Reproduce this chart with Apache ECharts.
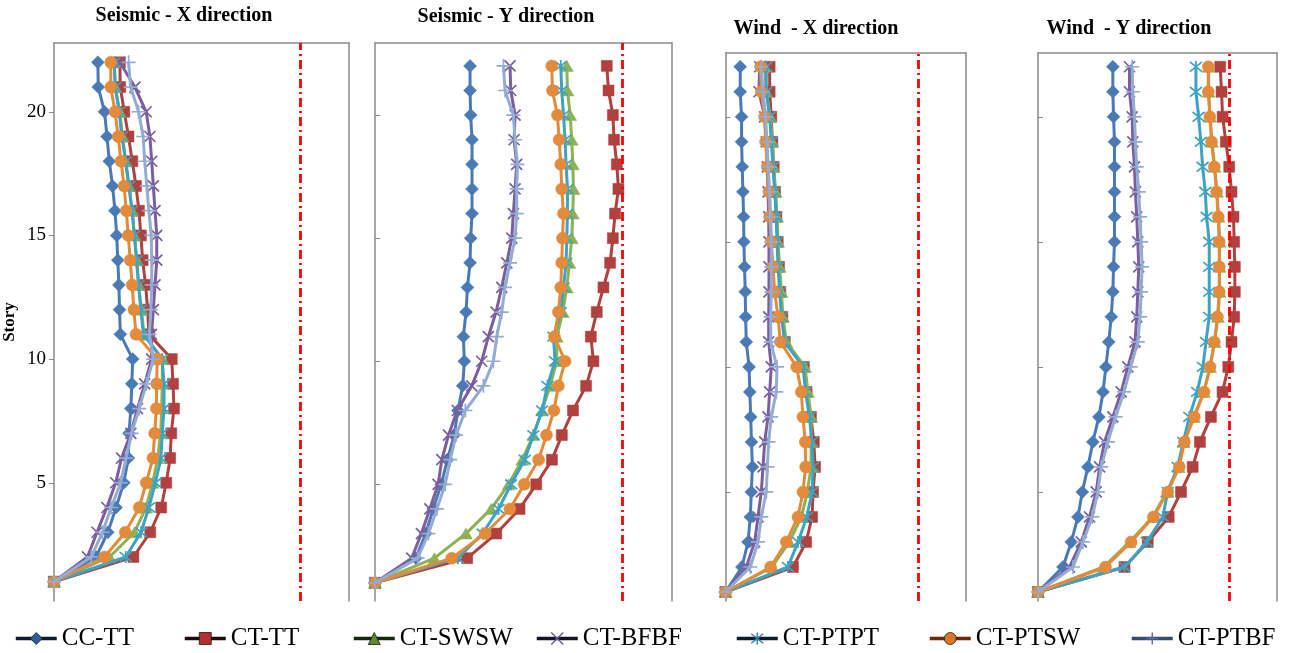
<!DOCTYPE html>
<html>
<head>
<meta charset="utf-8">
<script src="https://cdn.jsdelivr.net/npm/echarts@6/dist/echarts.min.js"></script>
<style>html,body{margin:0;padding:0;background:#fff}#c{width:1307px;height:653px}</style>
</head>
<body>
<div id="c"></div>
<script>
// ---- data (story drift, per mille) ----
const stories = [1,2,3,4,5,6,7,8,9,10,11,12,13,14,15,16,17,18,19,20,21,22];
const seriesNames = ['CC-TT','CT-TT','CT-SWSW','CT-BFBF','CT-PTPT','CT-PTSW','CT-PTBF'];
const panelTitles = ['Seismic - X direction','Seismic - Y direction','Wind  - X direction','Wind  - Y direction'];
const storyTicks = [5,10,15,20];
const limitSeismic = 20;
const limitWind = 2.0;

// Seismic - X
const sx_CCTT = [0,3.42,4.38,5.05,5.68,6.05,6.10,6.25,6.33,6.40,5.40,5.33,5.28,5.19,5.10,4.96,4.76,4.50,4.31,4.11,3.60,3.57];
const sx_CTTT = [0,6.46,7.83,8.72,9.13,9.45,9.54,9.76,9.68,9.58,7.72,7.62,7.45,7.21,7.07,6.91,6.67,6.37,6.06,5.72,5.39,5.36];
const sx_SWSW = [0,4.52,6.55,7.49,8.03,8.44,8.68,8.76,8.81,8.82,7.32,7.12,6.88,6.74,6.54,6.36,6.09,5.82,5.58,5.35,4.98,4.89];
const sx_BFBF = [0,2.72,3.50,4.30,5.02,5.50,6.25,6.79,7.38,7.95,7.93,8.08,8.22,8.36,8.36,8.22,8.08,7.95,7.80,7.50,6.58,5.36];
const sx_PTPT = [0,5.83,7.08,7.72,8.25,8.70,8.81,8.95,8.95,8.80,7.27,7.06,6.88,6.71,6.54,6.35,6.10,5.84,5.52,5.30,4.98,4.91];
const sx_PTSW = [0,4.11,5.80,6.94,7.50,8.05,8.19,8.33,8.35,8.40,6.67,6.50,6.36,6.20,6.04,5.88,5.70,5.45,5.22,4.96,4.62,4.62];
const sx_PTBF = [0,3.03,3.95,4.65,5.42,5.86,6.31,6.93,7.52,8.08,7.76,7.88,7.95,7.95,7.91,7.72,7.55,7.38,7.25,6.88,6.23,6.07];

// Seismic - Y
const sy_CCTT = [0,3.30,4.10,4.70,5.35,5.85,6.40,6.70,7.09,7.22,7.14,7.36,7.47,7.68,7.73,7.84,7.84,7.84,7.84,7.73,7.68,7.68];
const sy_CTTT = [0,7.45,9.80,11.68,13.03,14.30,15.10,16.00,17.06,17.65,17.44,17.92,18.46,19.00,19.22,19.40,19.67,19.54,19.32,19.22,18.87,18.73];
const sy_SWSW = [0,4.80,7.35,9.38,10.80,11.90,12.80,13.50,14.15,14.69,14.69,15.17,15.50,15.71,15.90,15.98,16.04,15.98,15.90,15.77,15.55,15.50];
const sy_BFBF = [0,2.97,3.75,4.43,5.10,5.40,5.94,6.65,7.82,8.62,9.16,9.78,10.24,10.65,11.05,11.18,11.32,11.45,11.24,11.32,10.97,10.91];
const sy_PTPT = [0,6.70,8.70,9.98,11.00,12.10,12.80,13.50,13.93,14.55,14.42,15.01,15.23,15.44,15.50,15.55,15.55,15.44,15.36,15.23,15.09,15.01];
const sy_PTSW = [0,6.20,8.90,10.90,12.06,13.22,13.86,14.46,14.82,15.36,14.50,14.82,15.01,15.09,15.15,15.23,15.09,15.01,14.88,14.74,14.34,14.28];
const sy_PTBF = [0,3.45,4.32,5.00,5.67,6.08,6.55,7.30,8.76,9.57,9.84,10.24,10.51,10.91,11.32,11.45,11.45,11.51,11.32,11.18,10.51,10.38];

// Wind - X
const wx_CCTT = [0,0.171,0.234,0.258,0.268,0.280,0.270,0.262,0.253,0.245,0.216,0.209,0.205,0.198,0.191,0.188,0.181,0.174,0.167,0.167,0.153,0.153];
const wx_CTTT = [0,0.702,0.838,0.900,0.910,0.931,0.918,0.888,0.843,0.815,0.616,0.591,0.570,0.556,0.543,0.529,0.515,0.501,0.487,0.476,0.459,0.459];
const wx_SWSW = [0,0.485,0.662,0.790,0.850,0.890,0.890,0.890,0.858,0.826,0.633,0.598,0.581,0.563,0.546,0.536,0.522,0.501,0.487,0.466,0.424,0.407];
const wx_BFBF = [0,0.216,0.303,0.338,0.372,0.390,0.407,0.442,0.459,0.476,0.449,0.449,0.452,0.452,0.452,0.449,0.442,0.435,0.424,0.407,0.348,0.355];
const wx_PTPT = [0,0.648,0.754,0.845,0.900,0.910,0.898,0.872,0.832,0.806,0.616,0.581,0.563,0.546,0.536,0.529,0.511,0.494,0.476,0.459,0.424,0.424];
const wx_PTSW = [0,0.469,0.632,0.753,0.805,0.833,0.829,0.805,0.788,0.740,0.570,0.546,0.511,0.494,0.476,0.459,0.452,0.435,0.417,0.407,0.372,0.365];
const wx_PTBF = [0,0.258,0.338,0.372,0.424,0.435,0.448,0.476,0.528,0.535,0.470,0.470,0.476,0.476,0.476,0.470,0.459,0.445,0.431,0.417,0.390,0.372];

// Wind - Y
const wy_CCTT = [0,0.261,0.348,0.418,0.463,0.522,0.574,0.637,0.680,0.710,0.740,0.766,0.783,0.790,0.800,0.800,0.800,0.800,0.800,0.790,0.783,0.783];
const wy_CTTT = [0,0.905,1.148,1.367,1.496,1.618,1.694,1.809,1.930,1.990,2.024,2.052,2.059,2.059,2.052,2.045,2.024,2.000,1.965,1.931,1.920,1.906];
const wy_SWSW = [0,0.685,0.957,1.200,1.346,1.472,1.525,1.630,1.735,1.800,1.848,1.882,1.900,1.900,1.900,1.889,1.872,1.848,1.820,1.800,1.785,1.785];
const wy_BFBF = [0,0.331,0.452,0.539,0.609,0.644,0.696,0.783,0.870,0.940,1.015,1.033,1.044,1.054,1.044,1.033,1.019,1.009,0.992,0.985,0.957,0.957];
const wy_PTPT = [0,0.905,1.138,1.305,1.357,1.461,1.520,1.583,1.665,1.725,1.757,1.791,1.791,1.791,1.791,1.764,1.750,1.722,1.704,1.680,1.652,1.652];
const wy_PTSW = [0,0.706,0.974,1.207,1.357,1.478,1.531,1.635,1.737,1.800,1.844,1.878,1.896,1.896,1.896,1.885,1.868,1.844,1.816,1.798,1.781,1.781];
const wy_PTBF = [0,0.366,0.470,0.567,0.626,0.661,0.731,0.811,0.900,0.970,1.044,1.068,1.079,1.089,1.079,1.068,1.054,1.033,1.019,1.009,0.992,0.985];

const panelData = [
  [sx_CCTT, sx_CTTT, sx_SWSW, sx_BFBF, sx_PTPT, sx_PTSW, sx_PTBF],
  [sy_CCTT, sy_CTTT, sy_SWSW, sy_BFBF, sy_PTPT, sy_PTSW, sy_PTBF],
  [wx_CCTT, wx_CTTT, wx_SWSW, wx_BFBF, wx_PTPT, wx_PTSW, wx_PTBF],
  [wy_CCTT, wy_CTTT, wy_SWSW, wy_BFBF, wy_PTPT, wy_PTSW, wy_PTBF]
];
const panelLimits = [limitSeismic, limitSeismic, limitWind, limitWind];

// ---- styling / layout ----
const layout = [
  {left: 52.5, right: 349, top: 43, bottom: 601, xMax: 24,  yMin: 0.22, yMax: 22.78, titleX: 184, titleY: 6,  tickInside: false},
  {left: 375,  right: 672, top: 43, bottom: 601, xMax: 24,  yMin: 0.26, yMax: 22.93, titleX: 506, titleY: 7,  tickInside: true},
  {left: 725.5,right: 966, top: 53, bottom: 601, xMax: 2.5, yMin: 0.64, yMax: 22.55, titleX: 816, titleY: 19, tickInside: true},
  {left: 1038, right: 1277,top: 53, bottom: 601, xMax: 2.5, yMin: 0.64, yMax: 22.55, titleX: 1129,titleY: 19, tickInside: true}
];
const colors = ['#4A7AB5','#B0413E','#8DB255','#7A5E9E','#3DA3C2','#E38B3A','#93ACD4'];
const symbols = ['diamond','rect','triangle',
  'path://M0,0L10,10M10,0L0,10',
  'path://M0,1L10,9M10,1L0,9M5,0L5,10',
  'circle',
  'path://M5,0L5,10M0,5L10,5'];
const symbolSizes = [[13,13],11,[13,11],11,[12,12],12,[14,14]];
const strokeOnly = [false,false,false,true,true,false,true];
const legendLine = ['#0E1A30','#1E0C0C','#14260C','#141428','#0C1C28','#6A2A08','#3A4A6A'];
const legendMarker = ['#2E5C9A','#B0302C','#5E8A2A','#6A5A9A','#2E7FA5','#D9782A','#5A6FA0'];
const legendLeft = [14,183,352,535,735,928,1130];
const frameColor = '#8A8A8A';
const serif = "'Liberation Serif','Times New Roman',serif";

const grid = [], xAxis = [], yAxis = [], series = [], title = [], legend = [];
layout.forEach((L, p) => {
  grid.push({left: L.left, top: L.top, width: L.right - L.left, height: L.bottom - L.top, containLabel: false});
  xAxis.push({type: 'value', gridIndex: p, min: 0, max: L.xMax, position: 'top',
    axisLine: {show: true, onZero: false, lineStyle: {color: frameColor, width: 1.5}},
    axisTick: {show: false}, axisLabel: {show: false}, splitLine: {show: false}});
  yAxis.push({type: 'value', gridIndex: p, min: L.yMin, max: L.yMax, position: 'left',
    name: p === 0 ? 'Story' : '', nameLocation: 'middle', nameGap: 36,
    nameTextStyle: {fontFamily: serif, fontWeight: 'bold', fontSize: 17, color: '#000'},
    axisLine: {show: true, onZero: false, lineStyle: {color: frameColor, width: 1.5}},
    axisTick: {show: true, inside: L.tickInside, length: 5, customValues: storyTicks, lineStyle: {color: frameColor}},
    axisLabel: {show: p === 0, customValues: storyTicks, margin: 8, fontFamily: serif, fontSize: 19, color: '#000'},
    splitLine: {show: false}});
  title.push({text: panelTitles[p], left: L.titleX, top: L.titleY, textAlign: 'center', padding: 0,
    textStyle: {fontFamily: serif, fontWeight: 'bold', fontSize: 20, color: '#000'}});
});
layout.forEach((L, p) => {
  yAxis.push({type: 'value', gridIndex: p, min: L.yMin, max: L.yMax, position: 'right',
    axisLine: {show: true, onZero: false, lineStyle: {color: frameColor, width: 1.5}},
    axisTick: {show: false}, axisLabel: {show: false}, splitLine: {show: false}});
});

panelData.forEach((arrs, p) => {
  arrs.forEach((vals, k) => {
    const c = colors[k];
    const s = {
      type: 'line', name: seriesNames[k], xAxisIndex: p, yAxisIndex: p,
      data: stories.map((st, i) => [vals[i], st]),
      symbol: symbols[k], symbolSize: symbolSizes[k], showSymbol: true, clip: false,
      lineStyle: {color: c, width: 3},
      itemStyle: strokeOnly[k] ? {color: c, borderColor: c, borderWidth: 1.7} : {color: c, borderColor: c, borderWidth: 0.5},
      emphasis: {disabled: true}, silent: true, z: 2 + k
    };
    if (k === 0) {
      s.markLine = {symbol: 'none', silent: true, label: {show: false},
        lineStyle: {color: '#FF0000', width: 2.8, type: [9, 4, 2, 4]},
        data: [{xAxis: panelLimits[p]}]};
    }
    series.push(s);
  });
});

seriesNames.forEach((n, k) => {
  legend.push({left: legendLeft[k], top: 626, padding: 0, itemGap: 0, itemWidth: 41, itemHeight: 15,
    selectedMode: false,
    textStyle: {fontFamily: serif, fontSize: 25, color: '#000'},
    data: [{name: n,
      itemStyle: strokeOnly[k] ? {color: legendMarker[k], borderColor: legendMarker[k], borderWidth: 1.4}
                               : {color: legendMarker[k], borderColor: '#1a1a1a', borderWidth: 0.8},
      lineStyle: {color: legendLine[k], width: 3.5}}]});
});

const chart = echarts.init(document.getElementById('c'), null, {renderer: 'canvas'});
chart.setOption({backgroundColor: '#fff', animation: false, title, legend, grid, xAxis, yAxis, series});
</script>
</body>
</html>
